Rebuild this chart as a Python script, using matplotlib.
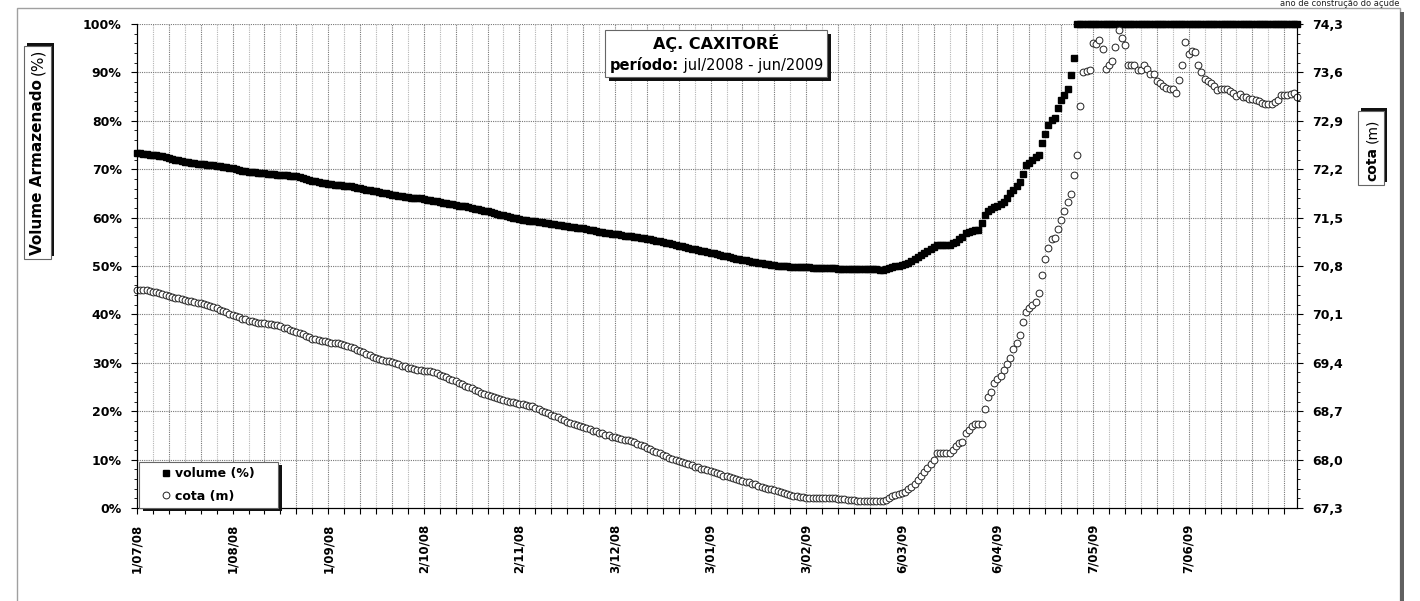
import matplotlib.pyplot as plt
import numpy as np
from matplotlib.patches import Rectangle
from matplotlib.ticker import AutoMinorLocator, FixedLocator

plt.rcParams['font.family'] = 'DejaVu Sans'

W, H = 1420, 601

# volume armazenado (%), uma leitura por registro (jul/2008 a jun/2009)
volume_pct = [
    73.3, 73.3, 73.2, 73.1, 73.0, 72.9, 72.9, 72.8, 72.7, 72.6,
    72.4, 72.2, 72.0, 71.8, 71.7, 71.5, 71.4, 71.3, 71.2, 71.1,
    71.0, 71.0, 70.9, 70.9, 70.8, 70.7, 70.6, 70.5, 70.4, 70.3,
    70.2, 70.0, 69.9, 69.7, 69.6, 69.5, 69.4, 69.4, 69.3, 69.3,
    69.2, 69.1, 69.1, 69.0, 68.9, 68.8, 68.8, 68.7, 68.6, 68.5,
    68.5, 68.3, 68.1, 67.9, 67.8, 67.6, 67.5, 67.4, 67.2, 67.1,
    67.0, 66.9, 66.8, 66.8, 66.7, 66.6, 66.6, 66.5, 66.4, 66.2,
    66.1, 66.0, 65.8, 65.7, 65.5, 65.4, 65.2, 65.1, 65.0, 64.8,
    64.7, 64.6, 64.5, 64.4, 64.3, 64.2, 64.1, 64.1, 64.0, 64.0,
    63.9, 63.7, 63.6, 63.5, 63.4, 63.3, 63.1, 63.0, 62.9, 62.8,
    62.7, 62.5, 62.4, 62.3, 62.1, 62.0, 61.8, 61.7, 61.5, 61.4,
    61.3, 61.1, 61.0, 60.8, 60.6, 60.5, 60.3, 60.2, 60.0, 59.9,
    59.8, 59.6, 59.5, 59.4, 59.3, 59.2, 59.1, 59.0, 58.9, 58.8,
    58.7, 58.6, 58.5, 58.4, 58.3, 58.2, 58.1, 58.0, 57.9, 57.8,
    57.8, 57.6, 57.5, 57.4, 57.2, 57.1, 57.0, 56.9, 56.8, 56.7,
    56.7, 56.6, 56.4, 56.3, 56.2, 56.1, 56.0, 55.9, 55.8, 55.7,
    55.6, 55.5, 55.4, 55.2, 55.1, 55.0, 54.8, 54.7, 54.5, 54.4,
    54.2, 54.1, 53.9, 53.8, 53.6, 53.5, 53.3, 53.2, 53.0, 52.9,
    52.7, 52.6, 52.4, 52.3, 52.1, 52.0, 51.8, 51.7, 51.5, 51.4,
    51.3, 51.2, 51.1, 50.9, 50.8, 50.7, 50.6, 50.5, 50.4, 50.3,
    50.2, 50.1, 50.0, 50.0, 49.9, 49.8, 49.8, 49.8, 49.7, 49.7,
    49.7, 49.7, 49.6, 49.6, 49.6, 49.6, 49.6, 49.5, 49.5, 49.5,
    49.4, 49.4, 49.3, 49.3, 49.3, 49.3, 49.3, 49.3, 49.3, 49.3,
    49.3, 49.3, 49.3, 49.2, 49.2, 49.4, 49.6, 49.8, 49.9, 50.0,
    50.2, 50.4, 50.7, 51.1, 51.5, 51.9, 52.3, 52.7, 53.1, 53.6,
    54.0, 54.3, 54.3, 54.3, 54.3, 54.4, 54.7, 55.0, 55.5, 56.0,
    56.8, 57.1, 57.3, 57.4, 57.4, 58.9, 60.5, 61.3, 61.8, 62.2,
    62.5, 62.8, 63.2, 64.1, 65.0, 65.8, 66.6, 67.4, 69.0, 70.8,
    71.3, 71.8, 72.6, 73.0, 75.4, 77.3, 79.1, 80.2, 80.6, 82.7,
    84.2, 85.3, 86.6, 89.5, 92.9,
    100.0, 100.0, 100.0, 100.0, 100.0, 100.0, 100.0, 100.0, 100.0, 100.0,
    100.0, 100.0, 100.0, 100.0, 100.0, 100.0, 100.0, 100.0, 100.0, 100.0,
    100.0, 100.0, 100.0, 100.0, 100.0, 100.0, 100.0, 100.0, 100.0, 100.0,
    100.0, 100.0, 100.0, 100.0, 100.0, 100.0, 100.0, 100.0, 100.0, 100.0,
    100.0, 100.0, 100.0, 100.0, 100.0, 100.0, 100.0, 100.0, 100.0, 100.0,
    100.0, 100.0, 100.0, 100.0, 100.0, 100.0, 100.0, 100.0, 100.0, 100.0,
    100.0, 100.0, 100.0, 100.0, 100.0, 100.0, 100.0, 100.0, 100.0, 100.0,
]

# cota (m), mesmos registros
cota_m = [
    70.46, 70.46, 70.45, 70.45, 70.44, 70.43, 70.42, 70.41, 70.40, 70.38,
    70.37, 70.35, 70.34, 70.33, 70.32, 70.31, 70.30, 70.29, 70.28, 70.27,
    70.26, 70.25, 70.24, 70.22, 70.21, 70.19, 70.17, 70.15, 70.13, 70.11,
    70.09, 70.07, 70.06, 70.04, 70.03, 70.01, 70.00, 69.99, 69.98, 69.97,
    69.97, 69.96, 69.96, 69.95, 69.94, 69.93, 69.91, 69.90, 69.88, 69.86,
    69.84, 69.83, 69.81, 69.79, 69.77, 69.75, 69.74, 69.73, 69.72, 69.71,
    69.70, 69.69, 69.68, 69.68, 69.67, 69.66, 69.65, 69.63, 69.61, 69.59,
    69.57, 69.55, 69.53, 69.51, 69.49, 69.47, 69.45, 69.44, 69.43, 69.42,
    69.41, 69.39, 69.38, 69.36, 69.35, 69.33, 69.32, 69.31, 69.30, 69.29,
    69.28, 69.28, 69.28, 69.27, 69.25, 69.23, 69.21, 69.19, 69.17, 69.15,
    69.13, 69.11, 69.09, 69.07, 69.05, 69.03, 69.01, 68.99, 68.97, 68.95,
    68.93, 68.92, 68.90, 68.89, 68.87, 68.86, 68.85, 68.84, 68.83, 68.82,
    68.81, 68.80, 68.79, 68.78, 68.77, 68.75, 68.73, 68.71, 68.69, 68.67,
    68.65, 68.63, 68.61, 68.59, 68.57, 68.55, 68.53, 68.51, 68.50, 68.48,
    68.47, 68.45, 68.44, 68.42, 68.41, 68.39, 68.38, 68.36, 68.35, 68.33,
    68.32, 68.31, 68.30, 68.29, 68.28, 68.27, 68.25, 68.23, 68.21, 68.19,
    68.17, 68.15, 68.13, 68.11, 68.09, 68.07, 68.05, 68.03, 68.01, 67.99,
    67.98, 67.96, 67.95, 67.93, 67.92, 67.90, 67.89, 67.87, 67.86, 67.85,
    67.83, 67.82, 67.80, 67.79, 67.77, 67.76, 67.75, 67.73, 67.72, 67.71,
    67.69, 67.68, 67.67, 67.65, 67.64, 67.62, 67.61, 67.59, 67.58, 67.57,
    67.56, 67.54, 67.53, 67.51, 67.50, 67.49, 67.48, 67.47, 67.46, 67.46,
    67.45, 67.45, 67.45, 67.45, 67.45, 67.44, 67.44, 67.44, 67.44, 67.44,
    67.43, 67.43, 67.43, 67.42, 67.42, 67.41, 67.40, 67.40, 67.40, 67.40,
    67.40, 67.40, 67.40, 67.40, 67.40, 67.41, 67.45, 67.48, 67.49, 67.50,
    67.51, 67.53, 67.57, 67.61, 67.65, 67.70, 67.76, 67.82, 67.88, 67.94,
    68.00, 68.10, 68.10, 68.10, 68.10, 68.10, 68.14, 68.20, 68.24, 68.26,
    68.38, 68.43, 68.48, 68.51, 68.52, 68.52, 68.73, 68.91, 68.98, 69.11,
    69.16, 69.21, 69.30, 69.38, 69.47, 69.60, 69.69, 69.80, 69.99, 70.14,
    70.19, 70.23, 70.28, 70.41, 70.67, 70.90, 71.06, 71.19, 71.21, 71.33,
    71.46, 71.60, 71.72, 71.84, 72.12, 72.40, 73.12, 73.61, 73.62, 73.64,
    74.03, 74.01, 74.07, 73.94, 73.65, 73.70, 73.77, 73.97, 74.22, 74.10,
    74.00, 73.70, 73.70, 73.70, 73.64, 73.64, 73.70, 73.65, 73.58, 73.58,
    73.47, 73.44, 73.40, 73.38, 73.36, 73.36, 73.30, 73.49, 73.70, 74.04,
    73.87, 73.91, 73.89, 73.70, 73.60, 73.50, 73.47, 73.44, 73.40, 73.35,
    73.36, 73.36, 73.36, 73.33, 73.30, 73.26, 73.29, 73.25, 73.24, 73.22,
    73.22, 73.20, 73.19, 73.16, 73.15, 73.14, 73.14, 73.17, 73.20, 73.27,
    73.27, 73.27, 73.29, 73.30, 73.24,
]

# rótulos a cada 30 registros (eixo de categorias)
label_pos = [0, 30, 60, 90, 120, 150, 180, 210, 240, 270, 300, 330]
tick_labels = ["1/07/08", "1/08/08", "1/09/08", "2/10/08", "2/11/08", "3/12/08",
               "3/01/09", "3/02/09", "6/03/09", "6/04/09", "7/05/09", "7/06/09"]
pct_ticks = [0, 10, 20, 30, 40, 50, 60, 70, 80, 90, 100]
cota_ticks = [67.3, 68.0, 68.7, 69.4, 70.1, 70.8, 71.5, 72.2, 72.9, 73.6, 74.3]


def fx(x):
    return x / W


def fy(y):
    return 1 - y / H


def shadow_box(x0, y0, x1, y1, dx, dy, shade="#111111"):
    # caixa branca com sombra, coordenadas em pixels a partir do canto superior
    w, h = (x1 - x0) / W, (y1 - y0) / H
    fig.add_artist(Rectangle((fx(x0 + dx), fy(y1 + dy)), w, h, transform=fig.transFigure,
                             facecolor=shade, edgecolor="none", zorder=2))
    fig.add_artist(Rectangle((fx(x0), fy(y1)), w, h, transform=fig.transFigure,
                             facecolor="white", edgecolor="#666666", lw=0.8, zorder=3))


fig = plt.figure(figsize=(W / 100, H / 100), dpi=100)
ax = fig.add_axes([fx(137), fy(508), (1297 - 137) / W, (508 - 24) / H])
ax2 = ax.twinx()

idx = np.arange(len(volume_pct))
n = len(volume_pct)

# grade
for d in range(5, n, 5):
    ax.axvline(d, color="#777777" if d % 10 == 0 else "#b5b5b5", lw=0.8,
               ls=(0, (1, 1)), zorder=0)
for p in pct_ticks[1:]:
    ax.axhline(p, color="#777777", lw=0.8, ls=(0, (1, 1)), zorder=0)

vol_line, = ax.plot(idx, volume_pct, ls="none", marker="s", ms=4.8, color="black",
                    clip_on=False, zorder=3, label="volume (%)")
cota_line, = ax2.plot(idx, cota_m, ls="none", marker="o", ms=4.9, mfc="white",
                      mec="#222222", mew=0.7, clip_on=False, label="cota (m)")

ax.set_xlim(0, n - 1)
ax.set_ylim(0, 100)
ax2.set_ylim(67.3, 74.3)

ax.set_xticks(label_pos)
ax.set_xticklabels(tick_labels, rotation=90, fontweight="bold", fontsize=8.5)
ax.xaxis.set_minor_locator(FixedLocator(list(range(0, n, 5))))
ax.tick_params(axis="x", which="both", length=4, width=0.8, pad=7)

ax.set_yticks(pct_ticks)
ax.set_yticklabels([f"{p}%" for p in pct_ticks], fontweight="bold", fontsize=9)
ax.yaxis.set_minor_locator(AutoMinorLocator(5))
ax.tick_params(axis="y", which="major", length=4, pad=7)
ax.tick_params(axis="y", which="minor", length=2.5)

ax2.set_yticks(cota_ticks)
ax2.set_yticklabels([f"{c:.1f}".replace(".", ",") for c in cota_ticks],
                    fontweight="bold", fontsize=9)
ax2.yaxis.set_minor_locator(AutoMinorLocator(5))
ax2.tick_params(axis="y", which="major", length=4, pad=7)
ax2.tick_params(axis="y", which="minor", length=2.5)

for a in (ax, ax2):
    a.spines["top"].set_visible(False)
    for s in ("left", "right", "bottom"):
        a.spines[s].set_color("black")

# moldura do gráfico
fig.add_artist(Rectangle((fx(17), fy(650)), (1400 - 17) / W, (650 - 8) / H,
                         transform=fig.transFigure, fill=False, edgecolor="#a0a0a0", lw=1))
fig.add_artist(Rectangle((fx(1400), fy(650)), 4 / W, (650 - 12) / H,
                         transform=fig.transFigure, facecolor="#606060", edgecolor="none"))
fig.text(fx(1340), fy(6.5), "ano de construção do açude", ha="center", va="baseline",
         fontsize=6, color="#222222")

# título
shadow_box(605, 30, 827, 77, 4, 4)
fig.text(fx(716), fy(48.5), "AÇ. CAXITORÉ", ha="center", va="baseline",
         fontsize=11.5, fontweight="bold", zorder=5)

# legenda
shadow_box(139, 462, 278, 508, 4, 3)
fig.legend(handles=[vol_line, cota_line], loc="center left",
           bbox_to_anchor=(fx(156), fy(485)), frameon=False,
           prop={"weight": "bold", "size": 9}, handlelength=0.6,
           handletextpad=0.4, labelspacing=0.75, borderpad=0)

# rótulos dos eixos
shadow_box(24, 46, 51, 259, 3, -3)
shadow_box(1358, 111, 1384, 185, 3, -3)

renderer = fig.canvas.get_renderer()
parts = []
t = fig.text(fx(610), fy(70), "período:", ha="left", va="baseline",
             fontsize=10.5, fontweight="bold", zorder=5)
parts.append((t, " jul/2008 - jun/2009", 0))
t = fig.text(fx(42.5), fy(255), "Volume Armazenado", ha="left", va="baseline",
             rotation=90, rotation_mode="anchor", fontsize=11, fontweight="bold", zorder=5)
parts.append((t, "(%)", 90))
t = fig.text(fx(1376), fy(181), "cota", ha="left", va="baseline",
             rotation=90, rotation_mode="anchor", fontsize=10, fontweight="bold", zorder=5)
parts.append((t, "(m)", 90))

inv = fig.transFigure.inverted()
for t, rest, rot in parts:
    bb = t.get_window_extent(renderer)
    x0, y0 = t.get_position()
    if rot == 0:
        nx, _ = inv.transform((bb.x1, 0))
        fig.text(nx, y0, rest, ha="left", va="baseline", fontsize=t.get_fontsize(), zorder=5)
    else:
        _, ny = inv.transform((0, bb.y1 + 4))
        fig.text(x0, ny, rest, ha="left", va="baseline", rotation=90,
                 rotation_mode="anchor", fontsize=t.get_fontsize(), zorder=5)

fig.savefig("out.png", dpi=100)
